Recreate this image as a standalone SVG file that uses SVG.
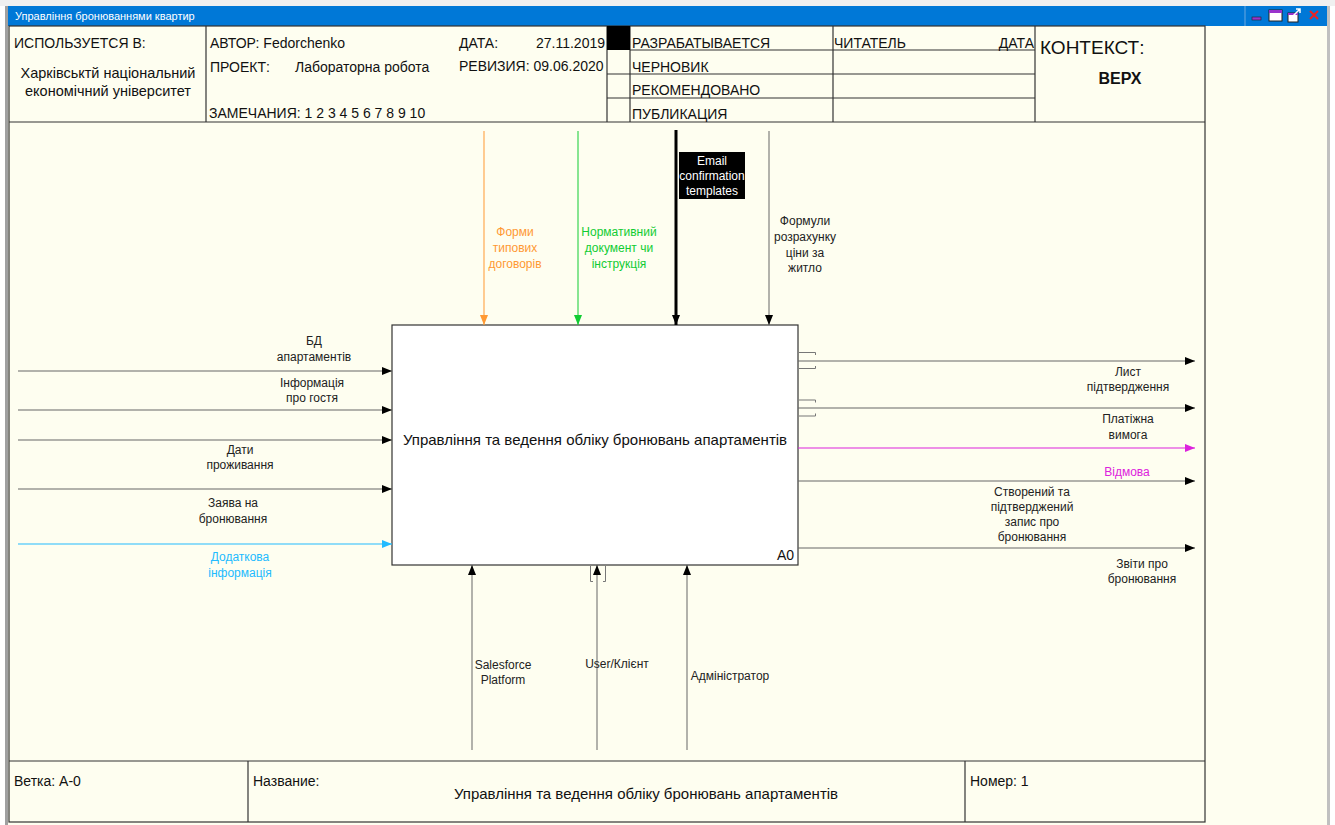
<svg xmlns="http://www.w3.org/2000/svg" width="1335" height="825" viewBox="0 0 1335 825">
  <defs>
    <marker id="ah" viewBox="0 0 10 8" refX="10" refY="4" markerWidth="10" markerHeight="8" markerUnits="userSpaceOnUse" orient="auto">
      <path d="M0,0 L10,4 L0,8 Z" fill="#000"/>
    </marker>
    <marker id="ah-orange" viewBox="0 0 10 8" refX="10" refY="4" markerWidth="10" markerHeight="8" markerUnits="userSpaceOnUse" orient="auto">
      <path d="M0,0 L10,4 L0,8 Z" fill="#ff9933"/>
    </marker>
    <marker id="ah-green" viewBox="0 0 10 8" refX="10" refY="4" markerWidth="10" markerHeight="8" markerUnits="userSpaceOnUse" orient="auto">
      <path d="M0,0 L10,4 L0,8 Z" fill="#11cc33"/>
    </marker>
    <marker id="ah-cyan" viewBox="0 0 10 8" refX="10" refY="4" markerWidth="10" markerHeight="8" markerUnits="userSpaceOnUse" orient="auto">
      <path d="M0,0 L10,4 L0,8 Z" fill="#22bbff"/>
    </marker>
    <marker id="ah-magenta" viewBox="0 0 10 8" refX="10" refY="4" markerWidth="10" markerHeight="8" markerUnits="userSpaceOnUse" orient="auto">
      <path d="M0,0 L10,4 L0,8 Z" fill="#dd22dd"/>
    </marker>
  </defs>
  <style>
    .frame { fill: none; stroke: #333; stroke-width: 1.2; }
    .grid { stroke: #333; stroke-width: 1.2; }
    .hdr { font-family: "Liberation Sans", Arial, sans-serif; font-size: 14px; fill: #111; }
    .ctx { font-family: "Liberation Sans", Arial, sans-serif; font-size: 19px; fill: #111; }
    .top { font-family: "Liberation Sans", Arial, sans-serif; font-size: 16px; font-weight: bold; fill: #111; text-anchor: middle; }
    .name { font-family: "Liberation Sans", Arial, sans-serif; font-size: 15px; fill: #111; }
    .lbl { font-family: "Liberation Sans", Arial, sans-serif; font-size: 12px; fill: #222; text-anchor: middle; }
    .lbl.orange { fill: #ff9933; }
    .lbl.green { fill: #11cc33; }
    .lbl.cyan { fill: #22bbff; }
    .lbl.magenta { fill: #dd22dd; }
    .lbl.white { fill: #ffffff; }
    .arrow { fill: none; stroke: #666; stroke-width: 1; marker-end: url(#ah); }
    .tun { fill: none; stroke: #777; stroke-width: 1; }
  </style>

  <!-- window chrome -->
  <rect x="0" y="0" width="1335" height="825" fill="#ffffff"/>
  <rect x="0" y="0" width="1335" height="6" fill="#f0f0f0"/>
  <rect x="6" y="6" width="1322" height="819" fill="#fefef0"/>
  <rect x="5" y="6" width="3" height="819" fill="#a0a0a0"/>
  <rect x="1327" y="6" width="3" height="819" fill="#c0c0c0"/>
  <rect x="8" y="6" width="1319" height="20" fill="#0078d7"/>
  <line x1="1245" y1="6" x2="1245" y2="26" stroke="#6aa8e0" stroke-width="1"/>
  <text x="15" y="20" font-family="Liberation Sans, Arial, sans-serif" font-size="11" fill="#ffffff">Управління бронюваннями квартир</text>
  <g id="window-buttons">
    <rect x="1252" y="17" width="9" height="3" fill="#9933cc" stroke="#222" stroke-width="0.6"/>
    <rect x="1269" y="10" width="13" height="11" fill="#ffffff" stroke="#222" stroke-width="1"/>
    <rect x="1269" y="10" width="13" height="3" fill="#9933cc"/>
    <rect x="1288" y="13" width="10" height="9" fill="#ffffff" stroke="#222" stroke-width="1"/>
    <rect x="1288" y="13" width="10" height="2" fill="#9933cc"/>
    <path d="M1293,16 L1300,9 M1296,9 L1300,9 L1300,13" stroke="#ffffff" stroke-width="1.5" fill="none"/>
    <path d="M1310,11 L1318,19 M1318,11 L1310,19" stroke="#ee2222" stroke-width="2"/>
  </g>

  <!-- drawing frame -->
  <rect class="frame" x="9" y="26" width="1196" height="796"/>
  <line class="grid" x1="9" y1="122" x2="1205" y2="122"/>
  <line class="grid" x1="9" y1="761" x2="1205" y2="761"/>

  <!-- header -->
  <g id="header">
    <line class="grid" x1="206" y1="26" x2="206" y2="122"/>
    <line class="grid" x1="607" y1="26" x2="607" y2="122"/>
    <line class="grid" x1="630" y1="26" x2="630" y2="122"/>
    <line class="grid" x1="833" y1="26" x2="833" y2="122"/>
    <line class="grid" x1="1035" y1="26" x2="1035" y2="122"/>
    <rect x="607" y="26" width="23" height="24" fill="#000"/>
    <line class="grid" x1="630" y1="50" x2="1035" y2="50"/>
    <line class="grid" x1="607" y1="74" x2="1035" y2="74"/>
    <line class="grid" x1="607" y1="98" x2="1035" y2="98"/>

    <text class="hdr" x="14" y="48">ИСПОЛЬЗУЕТСЯ В:</text>
    <text class="hdr" x="108" y="78" text-anchor="middle" style="font-size:14.5px">Харківськтй національний</text>
    <text class="hdr" x="108" y="96" text-anchor="middle" style="font-size:14.5px">економічний університет</text>

    <text class="hdr" x="210" y="48">АВТОР: Fedorchenko</text>
    <text class="hdr" x="210" y="72">ПРОЕКТ:</text>
    <text class="hdr" x="295" y="72">Лабораторна робота</text>
    <text class="hdr" x="209" y="118">ЗАМЕЧАНИЯ: 1 2 3 4 5 6 7 8 9 10</text>
    <text class="hdr" x="459" y="48">ДАТА:</text>
    <text class="hdr" x="605" y="48" text-anchor="end">27.11.2019</text>
    <text class="hdr" x="459" y="71">РЕВИЗИЯ: 09.06.2020</text>

    <text class="hdr" x="632" y="48">РАЗРАБАТЫВАЕТСЯ</text>
    <text class="hdr" x="632" y="72">ЧЕРНОВИК</text>
    <text class="hdr" x="632" y="95">РЕКОМЕНДОВАНО</text>
    <text class="hdr" x="632" y="119">ПУБЛИКАЦИЯ</text>
    <text class="hdr" x="834" y="48">ЧИТАТЕЛЬ</text>
    <text class="hdr" x="1034" y="48" text-anchor="end">ДАТА</text>

    <text class="ctx" x="1040" y="54">КОНТЕКСТ:</text>
    <text class="top" x="1120" y="84">ВЕРХ</text>
  </g>

  <!-- footer -->
  <g id="footer">
    <line class="grid" x1="248" y1="761" x2="248" y2="822"/>
    <line class="grid" x1="965" y1="761" x2="965" y2="822"/>
    <text class="hdr" x="14" y="786">Ветка: A-0</text>
    <text class="hdr" x="253" y="786">Название:</text>
    <text class="name" x="646" y="799" text-anchor="middle">Управління та ведення обліку бронювань апартаментів</text>
    <text class="hdr" x="970" y="786">Номер: 1</text>
  </g>

  <!-- activity box -->
  <g id="A0">
    <rect x="392" y="325" width="406" height="240" fill="#ffffff" stroke="#333" stroke-width="1.2"/>
    <text class="name" x="595" y="445" text-anchor="middle">Управління та ведення обліку бронювань апартаментів</text>
    <text class="hdr" x="794" y="560" text-anchor="end">A0</text>
  </g>

  <!-- arrows -->
  <g id="connectors">
    <!-- inputs -->
    <line class="arrow" x1="18" y1="371" x2="392" y2="371"/>
    <line class="arrow" x1="18" y1="410" x2="392" y2="410"/>
    <line class="arrow" x1="18" y1="440" x2="392" y2="440"/>
    <line class="arrow" x1="18" y1="489" x2="392" y2="489"/>
    <line x1="18" y1="544" x2="392" y2="544" stroke="#22bbff" stroke-width="1" marker-end="url(#ah-cyan)"/>

    <!-- controls -->
    <line x1="484" y1="131" x2="484" y2="325" stroke="#ff9933" stroke-width="1" marker-end="url(#ah-orange)"/>
    <line x1="578" y1="131" x2="578" y2="325" stroke="#11cc33" stroke-width="1" marker-end="url(#ah-green)"/>
    <line x1="676" y1="130" x2="676" y2="325" stroke="#000" stroke-width="3" marker-end="url(#ah)"/>
    <line class="arrow" x1="769" y1="131" x2="769" y2="325"/>

    <!-- outputs -->
    <line class="arrow" x1="798" y1="361" x2="1195" y2="361"/>
    <line class="arrow" x1="798" y1="408" x2="1195" y2="408"/>
    <line x1="798" y1="448" x2="1195" y2="448" stroke="#dd22dd" stroke-width="1" marker-end="url(#ah-magenta)"/>
    <line class="arrow" x1="798" y1="481" x2="1195" y2="481"/>
    <line class="arrow" x1="798" y1="548" x2="1195" y2="548"/>

    <!-- tunnel brackets on outputs -->
    <path class="tun" d="M799,352.5 H815.5 V355 M799,368.5 H815.5 V366"/>
    <path class="tun" d="M799,400 H815.5 V402.5 M799,416 H815.5 V413.5"/>

    <!-- mechanisms -->
    <line class="arrow" x1="472" y1="750" x2="472" y2="565"/>
    <line class="arrow" x1="597" y1="750" x2="597" y2="565"/>
    <line class="arrow" x1="687" y1="750" x2="687" y2="565"/>
    <path class="tun" d="M590.5,566 V581.5 H593 M605.5,566 V581.5 H603"/>
  </g>

  <!-- arrow labels -->
  <g id="labels">
    <text class="lbl" x="314" y="345">БД</text>
    <text class="lbl" x="314" y="361">апартаментів</text>
    <text class="lbl" x="312" y="387">Інформація</text>
    <text class="lbl" x="312" y="402">про гостя</text>
    <text class="lbl" x="240" y="454">Дати</text>
    <text class="lbl" x="240" y="469">проживання</text>
    <text class="lbl" x="233" y="507">Заява на</text>
    <text class="lbl" x="233" y="523">бронювання</text>
    <text class="lbl cyan" x="240" y="561">Додаткова</text>
    <text class="lbl cyan" x="240" y="577">інформація</text>

    <text class="lbl orange" x="515" y="236">Форми</text>
    <text class="lbl orange" x="515" y="252">типових</text>
    <text class="lbl orange" x="515" y="268">договорів</text>
    <text class="lbl green" x="619" y="236">Нормативний</text>
    <text class="lbl green" x="619" y="252">документ чи</text>
    <text class="lbl green" x="619" y="268">інструкція</text>
    <rect x="679" y="152" width="66" height="47" fill="#000"/>
    <text class="lbl white" x="712" y="165">Email</text>
    <text class="lbl white" x="712" y="180">confirmation</text>
    <text class="lbl white" x="712" y="195">templates</text>
    <text class="lbl" x="805" y="225">Формули</text>
    <text class="lbl" x="805" y="241">розрахунку</text>
    <text class="lbl" x="805" y="257">ціни за</text>
    <text class="lbl" x="805" y="272">житло</text>

    <text class="lbl" x="1128" y="376">Лист</text>
    <text class="lbl" x="1128" y="391">підтвердження</text>
    <text class="lbl" x="1128" y="423">Платіжна</text>
    <text class="lbl" x="1128" y="439">вимога</text>
    <text class="lbl magenta" x="1127" y="476">Відмова</text>
    <text class="lbl" x="1032" y="496">Створений та</text>
    <text class="lbl" x="1032" y="511">підтверджений</text>
    <text class="lbl" x="1032" y="526">запис про</text>
    <text class="lbl" x="1032" y="541">бронювання</text>
    <text class="lbl" x="1142" y="568">Звіти про</text>
    <text class="lbl" x="1142" y="583">бронювання</text>

    <text class="lbl" x="503" y="669">Salesforce</text>
    <text class="lbl" x="503" y="684">Platform</text>
    <text class="lbl" x="617" y="668">User/Клієнт</text>
    <text class="lbl" x="730" y="680">Адміністратор</text>
  </g>
</svg>
